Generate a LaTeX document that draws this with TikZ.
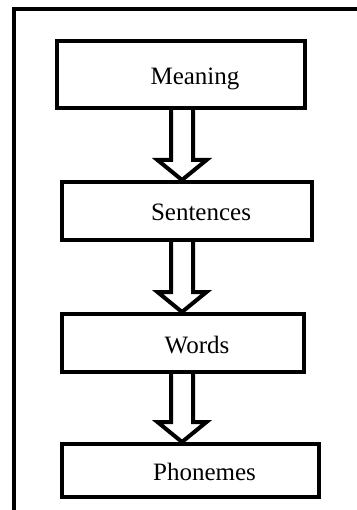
\documentclass[tikz,border=0pt]{standalone}
\usepackage{fontspec}
\setmainfont{Liberation Serif}
\usetikzlibrary{calc}

\begin{document}
\begin{tikzpicture}[
    x=1pt, y=-1pt,
    box/.style={rectangle, draw, line width=4pt, text height=20pt, text depth=0pt, font=\fontsize{25}{30}\selectfont, execute at begin node={\hspace*{28pt}}},
    arrow/.style={line width=4pt, line join=miter}
]
\useasboundingbox (0,0) rectangle (356,510);

% Frame
\draw[line width=4pt] (14,520) -- (14,9.5) -- (366,9.5);

% Nodes
\node[box, minimum width=248pt, minimum height=67pt] (mean) at (181,74.5) {Meaning};
\node[box, minimum width=250pt, minimum height=58pt] (sent) at (187,211) {Sentences};
\node[box, minimum width=242pt, minimum height=58pt] (word) at (183,343) {Words};
\node[box, minimum width=257pt, minimum height=53pt] (phon) at (190.5,470.5) {Phonemes};

% Connections
\foreach \a/\b in {mean/sent, sent/word, word/phon}
  \draw[arrow] let \p1=(\a.south), \p2=(\b.north) in
    (171pt,\y1) -- (171pt,\y2+20pt) -- (157.5pt,\y2+20pt) -- (182pt,\y2) -- (206.5pt,\y2+20pt) -- (193pt,\y2+20pt) -- (193pt,\y1);

\end{tikzpicture}
\end{document}
